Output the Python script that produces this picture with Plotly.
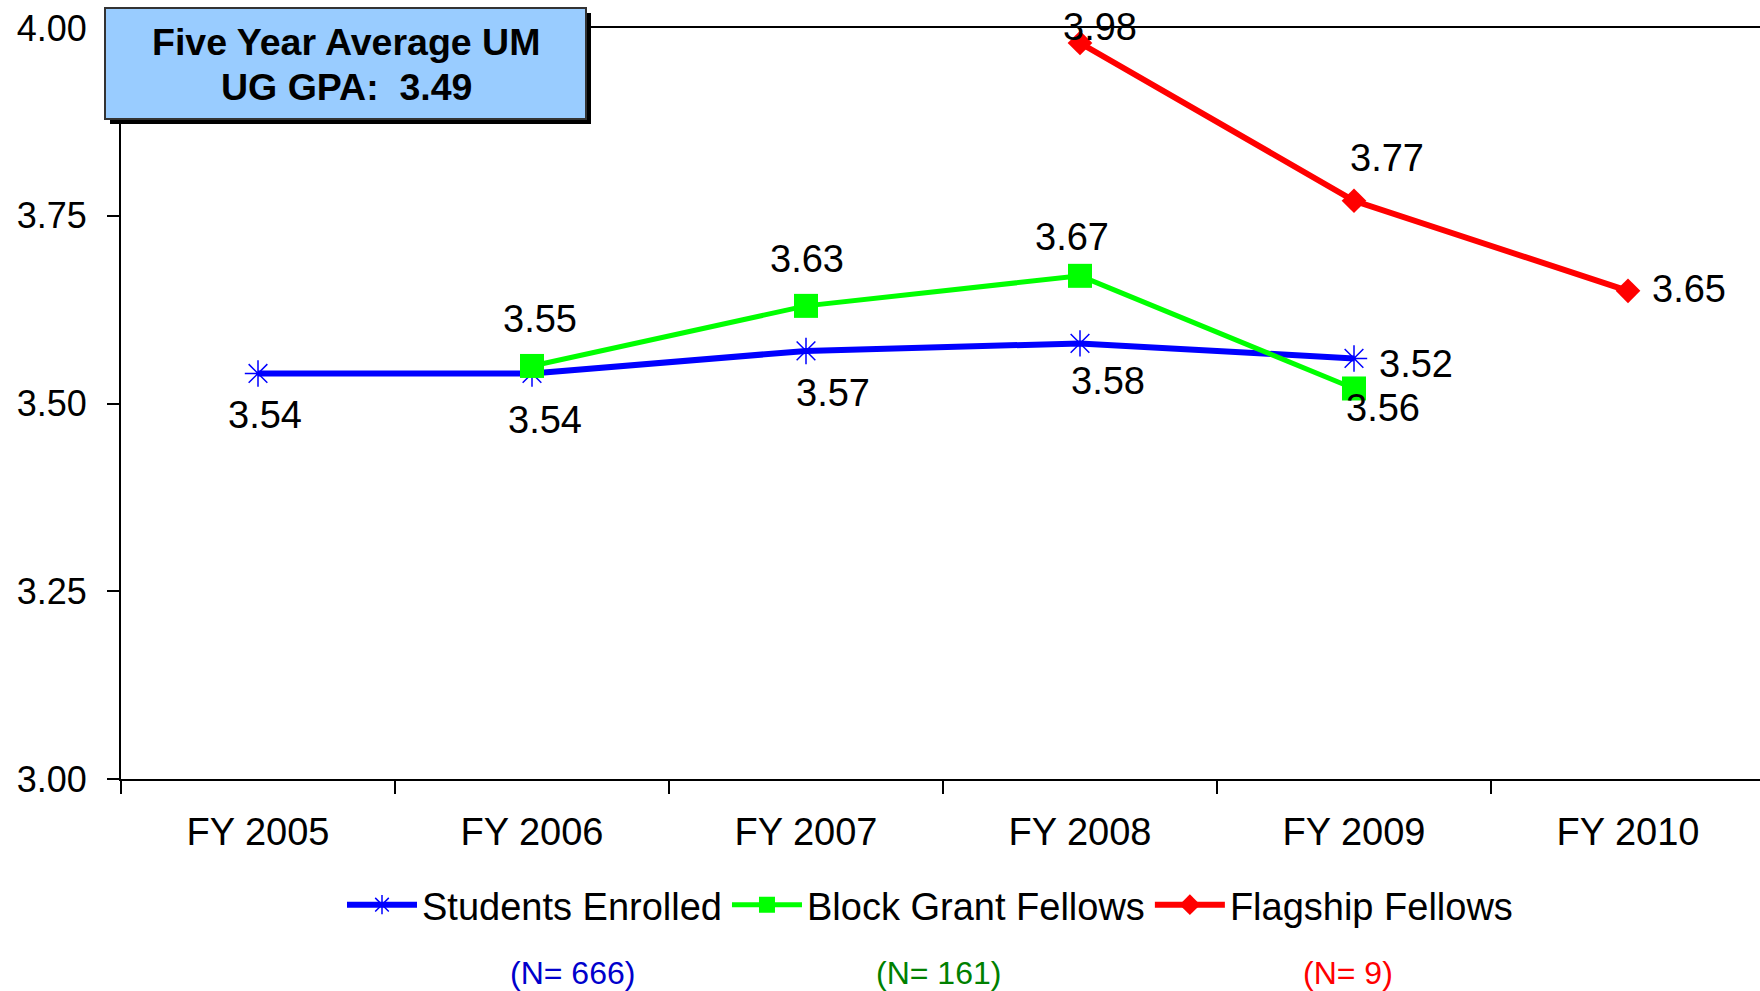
import plotly.graph_objects as go

categories = ["FY 2005", "FY 2006", "FY 2007", "FY 2008", "FY 2009", "FY 2010"]

enrolled_x = ["FY 2005", "FY 2006", "FY 2007", "FY 2008", "FY 2009"]
enrolled_y = [3.54, 3.54, 3.57, 3.58, 3.56]

block_x = ["FY 2006", "FY 2007", "FY 2008", "FY 2009"]
block_y = [3.55, 3.63, 3.67, 3.52]

flag_x = ["FY 2008", "FY 2009", "FY 2010"]
flag_y = [3.98, 3.77, 3.65]

series_names = ["Students Enrolled", "Block Grant Fellows", "Flagship Fellows"]
n_labels = ["(N= 666)", "(N= 161)", "(N= 9)"]
avg_text = ["Five Year Average UM", "UG GPA:\u00a0 3.49"]

# label offsets (px) for data labels: (xshift, yshift)
enrolled_off = [(7, -42), (13, -47), (27, -42), (28, -38), (29, -50)]
block_off = [(8, 47), (1, 47), (-8, 39), (62, 24)]
flag_off = [(20, 16), (33, 43), (61, 2)]

FONT = "Liberation Sans, Arial, sans-serif"
BLUE = "#0000FF"
GREEN = "#00FF00"
RED = "#FF0000"

W, H = 1760, 991
ML, MR, MT, MB = 121, 0, 28, 212
PW, PH = W - ML - MR, H - MT - MB


def px_x(px):
    return (px - ML) / PW


def px_y(py):
    return (H - MB - py) / PH


fig = go.Figure()
fig.add_trace(go.Scatter(
    x=enrolled_x, y=enrolled_y, name=series_names[0], mode="lines+markers",
    line=dict(color=BLUE, width=6),
    marker=dict(symbol="asterisk-open", size=22, color=BLUE, line=dict(color=BLUE, width=1.5)),
    cliponaxis=False,
))
fig.add_trace(go.Scatter(
    x=block_x, y=block_y, name=series_names[1], mode="lines+markers",
    line=dict(color=GREEN, width=5),
    marker=dict(symbol="square", size=24, color=GREEN),
    cliponaxis=False,
))
fig.add_trace(go.Scatter(
    x=flag_x, y=flag_y, name=series_names[2], mode="lines+markers",
    line=dict(color=RED, width=6),
    marker=dict(symbol="diamond", size=19, color=RED),
    cliponaxis=False,
))

annotations = []
for xs, ys, offs in [(enrolled_x, enrolled_y, enrolled_off),
                     (block_x, block_y, block_off),
                     (flag_x, flag_y, flag_off)]:
    for xv, yv, (dx, dy) in zip(xs, ys, offs):
        annotations.append(dict(
            x=xv, y=yv, xref="x", yref="y", text=f"{yv:.2f}", showarrow=False,
            xshift=dx, yshift=dy, font=dict(family=FONT, size=38, color="black"),
        ))

# Average box text (two lines)
for t, py in zip(avg_text, [42, 87]):
    annotations.append(dict(
        x=px_x(346), y=px_y(py), xref="paper", yref="paper",
        text="<b>" + t + "</b>",
        showarrow=False, xanchor="center", yanchor="middle",
        font=dict(family=FONT, size=37.5, color="black"),
    ))

# N labels
n_colors = ["#0000CC", "#008000", "#FF0000"]
n_x = [572, 938, 1348]
for t, c, px in zip(n_labels, n_colors, n_x):
    annotations.append(dict(
        x=px_x(px), y=px_y(973), xref="paper", yref="paper",
        text=t, showarrow=False, xanchor="center", yanchor="middle",
        font=dict(family=FONT, size=32, color=c),
    ))

shapes = [
    # shadow
    dict(type="rect", xref="paper", yref="paper",
         x0=px_x(110), x1=px_x(591), y0=px_y(124), y1=px_y(13),
         fillcolor="black", line=dict(width=0), layer="above"),
    dict(type="rect", xref="paper", yref="paper",
         x0=px_x(105), x1=px_x(586), y0=px_y(119), y1=px_y(8),
         fillcolor="#99CCFF", line=dict(color="#333333", width=2), layer="above"),
]

fig.update_layout(
    width=W, height=H,
    margin=dict(l=ML, r=MR, t=MT, b=MB),
    plot_bgcolor="white", paper_bgcolor="white",
    font=dict(family=FONT, size=38, color="black"),
    showlegend=True,
    legend=dict(
        orientation="h", xref="container", yref="container",
        x=930 / W, xanchor="center", y=(H - 905) / H, yanchor="middle",
        font=dict(family=FONT, size=38, color="black"),
        itemwidth=70, traceorder="normal",
    ),
    xaxis=dict(
        type="category", categoryorder="array", categoryarray=categories,
        range=[-0.5, -0.5 + PW / 274],
        showline=True, linecolor="black", linewidth=2, mirror=True,
        ticks="outside", ticklen=13, tickcolor="black", tickwidth=1.5,
        tickson="boundaries", showgrid=False, zeroline=False,
        tickfont=dict(family=FONT, size=38, color="black"),
        ticklabelstandoff=18,
    ),
    yaxis=dict(
        range=[3.0, 4.0], dtick=0.25, tick0=3.0, tickformat=".2f",
        showline=True, linecolor="black", linewidth=2,
        ticks="outside", ticklen=12, tickcolor="black", tickwidth=1.5,
        showgrid=False, zeroline=False,
        tickfont=dict(family=FONT, size=36, color="black"),
        ticklabelstandoff=13,
    ),
    annotations=annotations,
    shapes=shapes,
)

fig.write_html("out.html", config=dict(displayModeBar=False),
               post_script="document.body.style.margin='0';")
